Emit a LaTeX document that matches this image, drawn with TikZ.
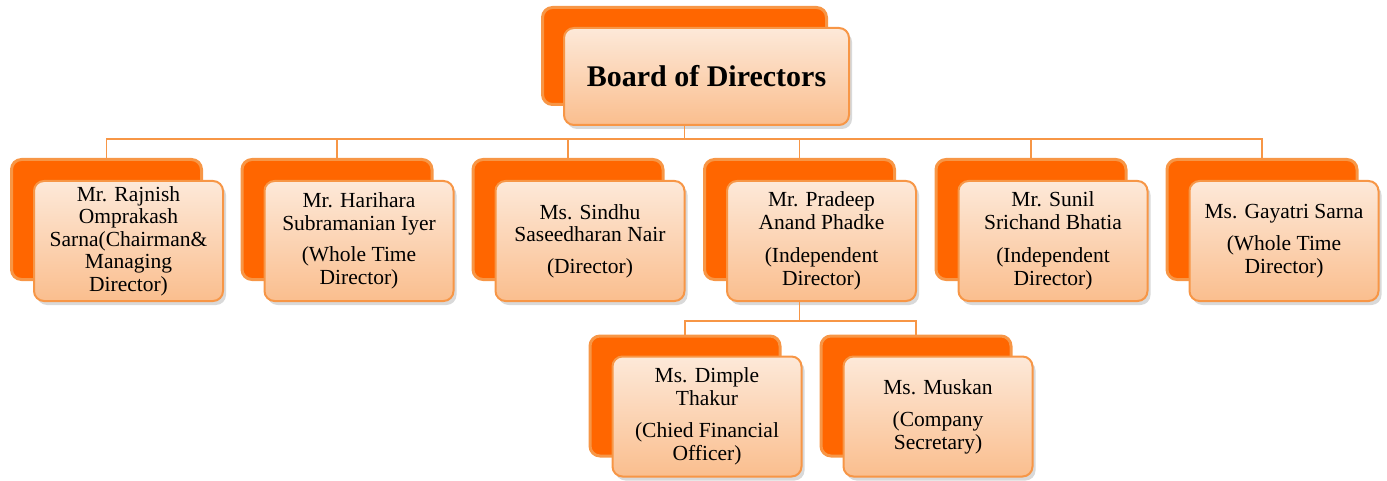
\documentclass[tikz,border=0pt]{standalone}
\usepackage{fontspec}
\setmainfont{Liberation Serif}
\usetikzlibrary{positioning, calc, shadows}
\definecolor{orangeback}{RGB}{255,102,0}
\definecolor{orangeline}{RGB}{247,150,70}
\definecolor{peachtop}{RGB}{253,233,217}
\definecolor{peachbottom}{RGB}{250,190,142}
\tikzset{
  backbox/.style={
    rectangle, rounded corners=10pt, draw=orangeline, line width=3pt, fill=orangeback,
    minimum width=190pt, minimum height=120pt
  },
  frontbox/.style={
    rectangle, rounded corners=10pt, draw=orangeline, line width=2pt,
    top color=peachtop, bottom color=peachbottom, align=center,
    font=\fontsize{21.5}{22.5}\selectfont, inner sep=1pt,
    minimum width=189pt, minimum height=120pt,
    drop shadow={shadow xshift=3pt, shadow yshift=-4pt, opacity=0.3}
  },
  headback/.style={backbox, minimum width=284pt, minimum height=97pt},
  headbox/.style={frontbox, minimum width=285pt, minimum height=97pt,
    font=\fontsize{30}{32}\selectfont\bfseries},
  link/.style={draw=orangeline, line width=1.5pt}
}

\begin{document}
\begin{tikzpicture}[x=1pt, y=-1pt]
  \useasboundingbox (0,0) rectangle (1387,481);

  % board
  \node[headback] (board-back) at (684.5,56) {};
  \node[headbox] (board) at ($(board-back)+(22,20.5)$) {Board of Directors};

  % directors
  \node[backbox] (rajnish-back) at (106.5,219.5) {};
  \node[frontbox] (rajnish) at ($(rajnish-back)+(22,21.5)$)
        {Mr. Rajnish\\Omprakash\\Sarna(Chairman\&\\Managing\\Director)};
  \node[backbox] (harihara-back) at (337,219.5) {};
  \node[frontbox] (harihara) at ($(harihara-back)+(22,21.5)$)
        {Mr. Harihara\\Subramanian Iyer\\[9pt](Whole Time\\Director)};
  \node[backbox] (sindhu-back) at (568,219.5) {};
  \node[frontbox] (sindhu) at ($(sindhu-back)+(22,21.5)$)
        {Ms. Sindhu\\Saseedharan Nair\\[9pt](Director)};
  \node[backbox] (pradeep-back) at (799.5,219.5) {};
  \node[frontbox] (pradeep) at ($(pradeep-back)+(22,21.5)$)
        {Mr. Pradeep\\Anand Phadke\\[11pt](Independent\\Director)};
  \node[backbox] (sunil-back) at (1031,219.5) {};
  \node[frontbox] (sunil) at ($(sunil-back)+(22,21.5)$)
        {Mr. Sunil\\Srichand Bhatia\\[11pt](Independent\\Director)};
  \node[backbox] (gayatri-back) at (1262,219.5) {};
  \node[frontbox] (gayatri) at ($(gayatri-back)+(22,21.5)$)
        {Ms. Gayatri Sarna\\[10pt](Whole Time\\Director)};

  % officers
  \node[backbox] (dimple-back) at (685,396) {};
  \node[frontbox] (dimple) at ($(dimple-back)+(22,20.5)$)
        {Ms. Dimple\\Thakur\\[10pt](Chied Financial\\Officer)};
  \node[backbox] (muskan-back) at (916,396) {};
  \node[frontbox] (muskan) at ($(muskan-back)+(22,20.5)$)
        {Ms. Muskan\\[10pt](Company\\Secretary)};

  % connectors
  \coordinate (bus) at ($(board-back |- board.south)+(0,13)$);
  \draw[link] (board-back |- board.south) -- (bus);
  \foreach \n in {rajnish, harihara, sindhu, pradeep, sunil, gayatri}
    \draw[link] (bus) -| (\n-back.north);
  \coordinate (subbus) at ($(pradeep-back |- pradeep.south)+(0,19)$);
  \draw[link] (pradeep-back |- pradeep.south) -- (subbus);
  \foreach \n in {dimple, muskan}
    \draw[link] (subbus) -| (\n-back.north);
\end{tikzpicture}
\end{document}
